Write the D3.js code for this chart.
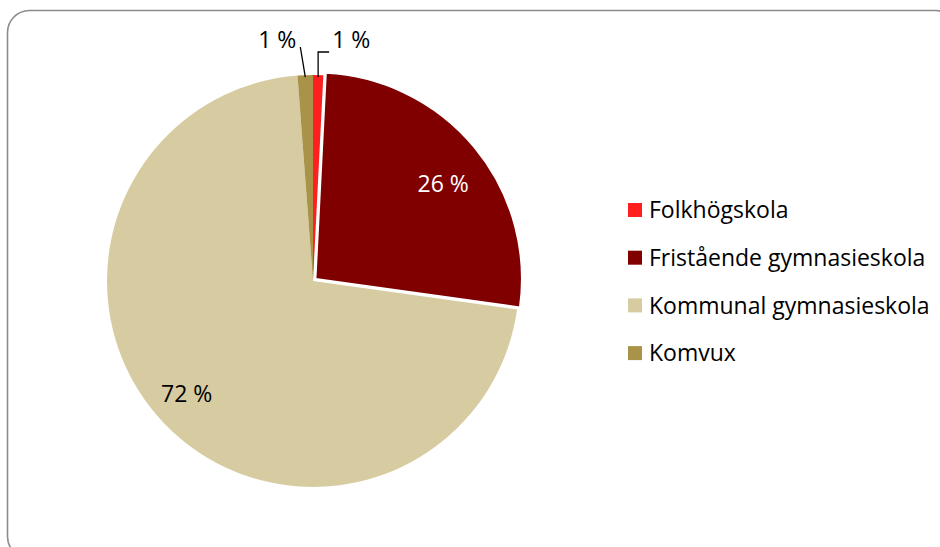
<!DOCTYPE html>
<html>
<head>
<meta charset="utf-8">
<script src="https://cdn.jsdelivr.net/npm/d3@7"></script>
<style>
  body { margin: 0; background: #fff; }
  svg text { font-family: "Open Sans", Lato, sans-serif; }
</style>
</head>
<body>
<div id="chart"></div>
<script>
// data (share of students, %)
var categories = ["Folkhögskola", "Fristående gymnasieskola", "Kommunal gymnasieskola", "Komvux"];
var shares     = [0.8, 26.4, 71.6, 1.2];
var labels     = ["1 %", "26 %", "72 %", "1 %"];
var colors     = ["#FF1F1F", "#800000", "#D7CCA1", "#A99349"];

var W = 940, H = 547;
var cx = 313, cy = 281, R = 206;
var fontSize = 23;

var svg = d3.select("#chart").append("svg")
  .attr("width", W).attr("height", H);

// chart frame
svg.append("rect")
  .attr("x", 7.5).attr("y", 10.5)
  .attr("width", 950).attr("height", 548)
  .attr("rx", 22).attr("ry", 22)
  .attr("fill", "#fff")
  .attr("stroke", "#8c8c8c")
  .attr("stroke-width", 1.6);

var data = categories.map(function(c, i){
  return { name: c, value: shares[i], label: labels[i], color: colors[i], i: i };
});

var pie = d3.pie().sort(null).value(function(d){ return d.value; });
var arcs = pie(data);
var arc = d3.arc().innerRadius(0).outerRadius(R);
var labelArc = d3.arc().innerRadius(165).outerRadius(165);

var g = svg.append("g").attr("transform", "translate(" + cx + "," + cy + ")");

// the Fristående slice is pulled out a little
var explode = function(d){
  if (d.data.i !== 1) return "translate(0,0)";
  var a = (d.startAngle + d.endAngle) / 2, off = 3.5;
  return "translate(" + (off * Math.sin(a)) + "," + (-off * Math.cos(a)) + ")";
};

g.selectAll("path.slice")
  .data(arcs)
  .enter().append("path")
    .attr("class", "slice")
    .attr("d", arc)
    .attr("transform", explode)
    .attr("fill", function(d){ return d.data.color; })
    .attr("stroke", function(d){ return d.data.i === 1 ? "#fff" : "none"; })
    .attr("stroke-width", 1.5);

// labels inside the big slices
g.selectAll("text.inner")
  .data(arcs.filter(function(d){ return d.data.value > 5; }))
  .enter().append("text")
    .attr("class", "inner")
    .attr("transform", function(d){
      var c = labelArc.centroid(d);
      if (d.data.i === 1) c = [c[0] + 3, c[1] + 8];
      else c = [c[0] - 6, c[1]];
      return "translate(" + c[0] + "," + c[1] + ")";
    })
    .attr("text-anchor", "middle")
    .attr("dy", "0.35em")
    .attr("font-size", fontSize)
    .attr("fill", function(d){ return d.data.i === 1 ? "#fff" : "#000"; })
    .text(function(d){ return d.data.label; });

// small slices: labels outside with leader lines
var small = arcs.filter(function(d){ return d.data.value <= 5; });
var point = function(a, r){ return [r * Math.sin(a), -r * Math.cos(a)]; };

small.forEach(function(d){
  var a = (d.startAngle + d.endAngle) / 2;
  var p0 = point(a, R - 2);
  var line, tx, anchor;
  if (d.data.i === 0) {
    // Folkhögskola: up then right
    var up = [p0[0], -229];
    line = [p0, up, [up[0] + 11, -229]];
    tx = up[0] + 14; anchor = "start";
  } else {
    // Komvux: slanted up-left
    var top = [p0[0] - 5, -234];
    line = [p0, top];
    tx = top[0] - 4; anchor = "end";
  }
  g.append("path")
    .attr("d", d3.line()(line))
    .attr("fill", "none")
    .attr("stroke", "#000")
    .attr("stroke-width", 1.3);
  g.append("text")
    .attr("x", tx).attr("y", -233)
    .attr("text-anchor", anchor)
    .attr("font-size", fontSize)
    .attr("fill", "#000")
    .text(d.data.label);
});

// legend
var legend = svg.append("g").attr("transform", "translate(628,210)");
var row = legend.selectAll("g.row")
  .data(data)
  .enter().append("g")
    .attr("class", "row")
    .attr("transform", function(d, i){ return "translate(0," + (i * 47.7) + ")"; });
row.append("rect")
  .attr("x", 0).attr("y", -7)
  .attr("width", 14).attr("height", 14)
  .attr("fill", function(d){ return d.color; });
row.append("text")
  .attr("x", 21).attr("y", 0)
  .attr("dy", "0.36em")
  .attr("font-size", fontSize)
  .attr("fill", "#000")
  .text(function(d){ return d.name; });
</script>
</body>
</html>
